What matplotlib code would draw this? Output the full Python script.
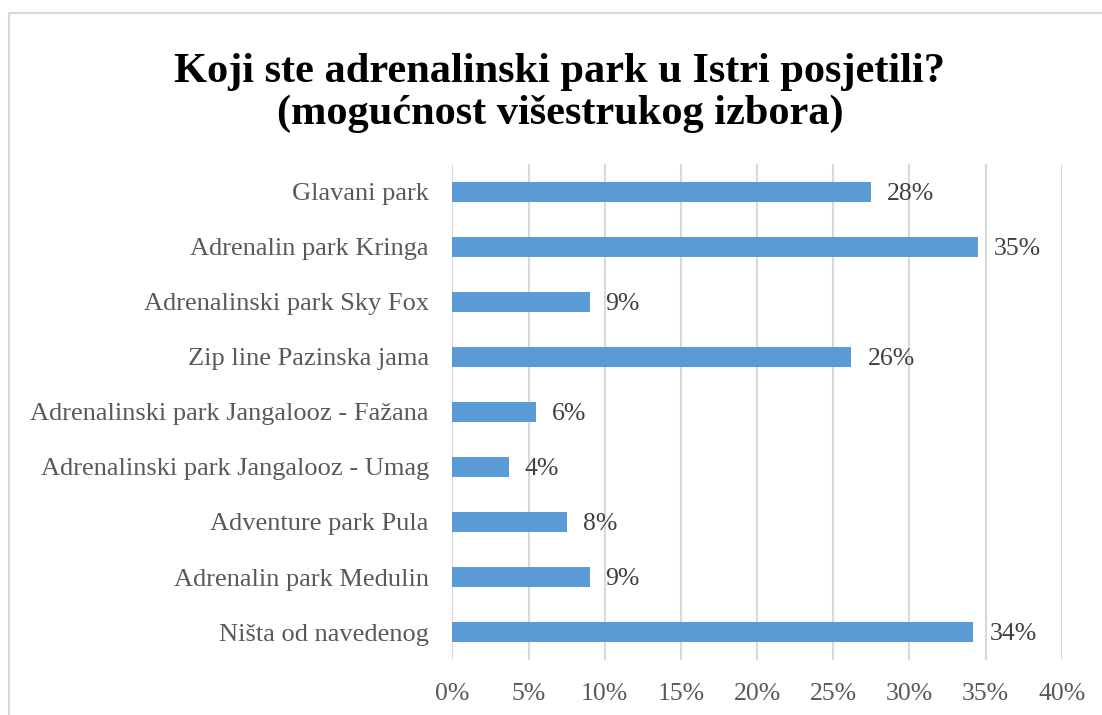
import matplotlib
matplotlib.use('Agg')
import matplotlib.pyplot as plt
from matplotlib.patches import Rectangle

# categories top to bottom, as in the chart
categories = ['Glavani park', 'Adrenalin park Kringa', 'Adrenalinski park Sky Fox',
              'Zip line Pazinska jama', 'Adrenalinski park Jangalooz - Fažana',
              'Adrenalinski park Jangalooz - Umag', 'Adventure park Pula',
              'Adrenalin park Medulin', 'Ništa od navedenog']
values = [27.5, 34.5, 9.0, 26.2, 5.5, 3.7, 7.5, 9.0, 34.2]
labels = ['28%', '35%', '9%', '26%', '6%', '4%', '8%', '9%', '34%']
xticks = [0, 5, 10, 15, 20, 25, 30, 35, 40]

plt.rcParams['font.family'] = ['Liberation Serif', 'DejaVu Serif']

fig = plt.figure(figsize=(11.02, 7.15), dpi=100)
ax = fig.add_axes([0.4106, 0.0776, 0.5528, 0.6924])

# chart border (cut off at right and bottom)
fig.patches.append(Rectangle((8.5 / 1102, -0.1), 1.2, 1 - 12.5 / 715 + 0.1,
                             transform=fig.transFigure, fill=False,
                             edgecolor='#D9D9D9', linewidth=1.5))

ypos = list(range(len(categories)))
ax.barh(ypos, values, height=0.35, color='#5B9BD5', zorder=3)
for y, v, lab in zip(ypos, values, labels):
   ax.annotate(lab, (v, y), xytext=(11.5, -1.5), textcoords='offset points',
               va='center', ha='left', fontsize=18.5, color='#404040')

ax.set_xlim(0, 40)
ax.set_ylim(len(categories) - 0.5, -0.5)
ax.set_xticks(xticks)
ax.set_xticklabels([str(t) + '%' for t in xticks])
ax.set_yticks(ypos)
ax.set_yticklabels(categories)
ax.tick_params(axis='both', length=0, labelsize=19, labelcolor='#595959')
ax.tick_params(axis='x', pad=17, labelsize=18.5)
ax.tick_params(axis='y', pad=17)
ax.grid(axis='x', color='#D9D9D9', linewidth=1.5, zorder=0)
for s in ['top', 'right', 'bottom', 'left']:
   ax.spines[s].set_visible(False)

fig.text(560 / 1102, 1 - 93 / 715,
         'Koji ste adrenalinski park u Istri posjetili?\n(mogućnost višestrukog izbora)',
         ha='center', va='center', fontsize=30.5, fontweight='bold',
         color='black', linespacing=1.12)

fig.savefig('out.png', dpi=100)
